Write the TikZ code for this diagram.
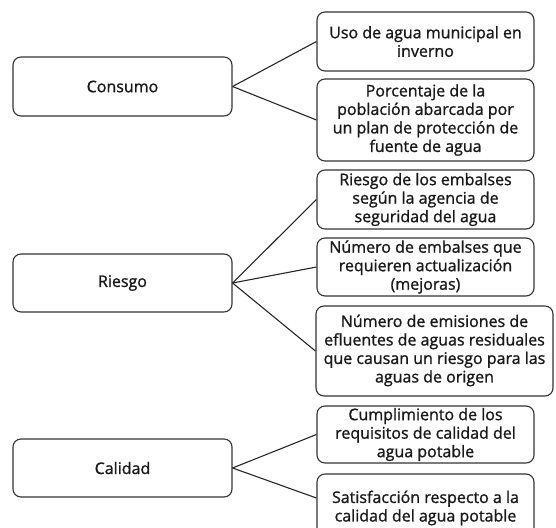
\documentclass[tikz,border=0pt]{standalone}
\usepackage{fontspec}
\setmainfont{Open Sans}
\newfontfamily\boxfont[FakeBold=1.2]{Open Sans}
\begin{document}
\begin{tikzpicture}[x=1pt,y=-1pt,
 box/.style={draw=black!80, line width=1.1pt, rounded corners=8pt, align=center, inner sep=0pt, text=black!90,
   font=\boxfont\fontsize{16}{18.5}\selectfont},
 link/.style={draw=black!85, line width=1.1pt}]
\useasboundingbox (0,0) rectangle (556,527);
\clip (0,0) rectangle (556,527);
% left boxes
\node[box, minimum width=219pt, minimum height=59pt] (con) at (122.5,86.5) {Consumo};
\node[box, minimum width=219pt, minimum height=58pt] (rie) at (122.5,283) {Riesgo};
\node[box, minimum width=219pt, minimum height=58pt] (cal) at (122.5,468) {Calidad};
% right boxes
\node[box, minimum width=217pt, minimum height=59pt] (uso) at (425.5,41.5) {Uso de agua municipal en\\inverno};
\node[box, minimum width=217pt, minimum height=82pt] (por) at (425.5,120) {Porcentaje de la\\población abarcada por\\un plan de protección de\\fuente de agua};
\node[box, minimum width=217pt, minimum height=59pt] (r1) at (425.5,199.5) {Riesgo de los embalses\\según la agencia de\\seguridad del agua};
\node[box, minimum width=217pt, minimum height=58pt] (r2) at (425.5,267) {Número de embalses que\\requieren actualización\\(mejoras)};
\node[box, minimum width=237pt, minimum height=90pt] (r3) at (434.5,351) {\makebox[200pt][c]{\begin{tabular}{@{}c@{}}Número de emisiones de\\efluentes de aguas residuales\\que causan un riesgo para las\\aguas de origen\end{tabular}}};
\node[box, minimum width=217pt, minimum height=57pt] (cum) at (425.5,434.5) {Cumplimiento de los\\requisitos de calidad del\\agua potable};
\node[box, minimum width=217pt, minimum height=68pt] (sat) at (425.5,508) {Satisfacción respecto a la\\calidad del agua potable};
% connectors
\draw[link] (con.east) -- (uso.west);
\draw[link] (con.east) -- (por.west);
\draw[link] (rie.east) -- (r1.west);
\draw[link] (rie.east) -- (r2.west);
\draw[link] (rie.east) -- (r3.west);
\draw[link] (cal.east) -- (cum.west);
\draw[link] (cal.east) -- ([yshift=10pt]sat.west);
\end{tikzpicture}
\end{document}
